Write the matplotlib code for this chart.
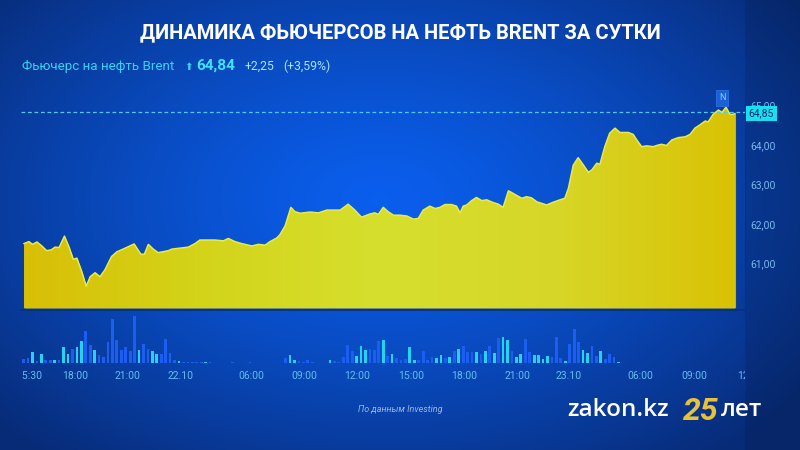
import numpy as np
import matplotlib
matplotlib.use("Agg")
import matplotlib.pyplot as plt
from matplotlib.colors import LinearSegmentedColormap

# ---------------- data ----------------
# time position in 15-minute slots (night pauses removed), price in USD
t_slot = [0.1, 1.2, 2.0, 3.0, 4.1, 5.2, 6.2, 7.1, 8.0, 9.2, 10.2, 11.2, 12.0, 13.1, 14.1, 15.0,
          16.1, 17.2, 18.3, 19.8, 21.0, 22.8, 24.9, 26.4, 27.2, 28.1, 29.2, 30.3, 32.6, 33.4,
          37.1, 38.6, 39.7, 43.1, 45.0, 46.1, 47.6, 49.1, 51.4, 52.9, 54.4, 55.5, 57.0, 57.7,
          58.9, 60.2, 61.1, 62.3, 64.5, 66.4, 68.3, 71.3, 73.1, 74.6, 76.1, 78.0, 79.1, 79.9,
          81.0, 82.1, 83.3, 84.8, 86.3, 87.8, 88.9, 90.0, 91.5, 92.7, 93.8, 94.9, 96.4, 97.5,
          98.3, 99.0, 99.8, 100.9, 102.0, 103.2, 104.3, 105.8, 106.9, 108.0, 109.2, 110.3,
          112.2, 113.3, 114.4, 115.6, 117.8, 119.3, 120.8, 121.9, 122.7, 123.8, 124.9, 126.1,
          127.2, 128.0, 129.1, 129.8, 130.9, 132.0, 133.2, 134.3, 136.2, 137.3, 138.1, 139.2,
          140.3, 141.8, 142.9, 143.7, 144.8, 146.0, 147.5, 149.0, 150.1, 151.2, 152.3, 153.5,
          154.2, 155.3, 156.5, 157.3, 158.2, 159.1, 159.8, 160.2]
price = [61.50, 61.55, 61.48, 61.54, 61.44, 61.32, 61.34, 61.41, 61.40, 61.69, 61.42, 61.10,
         61.13, 60.79, 60.42, 60.66, 60.76, 60.66, 60.83, 61.17, 61.29, 61.38, 61.49, 61.23,
         61.23, 61.48, 61.36, 61.27, 61.32, 61.36, 61.41, 61.50, 61.59, 61.59, 61.57, 61.63,
         61.55, 61.50, 61.44, 61.48, 61.46, 61.55, 61.64, 61.72, 61.95, 62.42, 62.31, 62.27,
         62.30, 62.28, 62.35, 62.35, 62.50, 62.35, 62.17, 62.25, 62.28, 62.24, 62.42, 62.31,
         62.22, 62.22, 62.20, 62.12, 62.14, 62.35, 62.45, 62.39, 62.42, 62.49, 62.49, 62.45,
         62.28, 62.45, 62.48, 62.59, 62.67, 62.59, 62.61, 62.54, 62.50, 62.42, 62.84, 62.77,
         62.65, 62.69, 62.66, 62.56, 62.48, 62.55, 62.61, 62.65, 62.90, 63.49, 63.68, 63.49,
         63.31, 63.37, 63.54, 63.51, 63.96, 64.30, 64.43, 64.32, 64.32, 64.27, 64.13, 63.96,
         63.98, 63.96, 64.00, 64.02, 63.99, 64.13, 64.19, 64.21, 64.27, 64.43, 64.51, 64.61,
         64.59, 64.78, 64.89, 64.83, 64.96, 64.78, 64.78, 64.80]

# volume per 15-minute slot (relative units)
volume = [4, 5, 11, 2, 9, 3, 3, 3, 3, 16, 9, 14, 16, 22, 32, 18, 13, 8, 6, 21, 44, 23, 13, 16,
          12, 47, 13, 19, 14, 12, 9, 9, 24, 10, 3, 2, 1, 1, 1, 0.7, 0.7, 1.5, 0.8, 0, 0, 0, 0,
          0.8, 0, 0, 0, 0.8, 0, 0, 0, 0.5, 0.5, 0.5, 0, 5, 8, 3, 2, 1, 3, 1, 0, 0, 0, 3, 2, 1,
          6, 18, 12, 7, 17, 13, 14, 13, 22, 23, 7, 9, 5, 3, 4, 16, 3, 3, 12, 3, 6, 5, 8, 5, 6,
          12, 14, 17, 11, 11, 11, 9, 12, 17, 10, 25, 26, 23, 12, 6, 9, 24, 11, 8, 8, 4, 7, 6,
          26, 5, 2, 19, 34, 21, 13, 10, 17, 7, 12, 4, 9, 6, 0.8]
# bar direction per slot: u = up (cyan), d = down (blue)
direction = list(
    "ddududdudu" "uduudduddd"      # 0-19
    "dddddduddu" "udddduddd"       # 20-38
    "ddudddddddddddddddddd"        # 39-59 (includes quiet night)
    "uuddddddu" "ud"               # 60-70
    "dddduuudddudu" "ddduudd"      # 71-90
    "dduudud" "udddudududuudu"     # 91-111
    "udduuuudddudd" "duuddudddu"   # 112-134
)
direction = (direction + ["d"] * len(volume))[:len(volume)]

tick_pos = [1.2, 11.5, 23.5, 35.3, 51.2, 63.2, 75.2, 87.2, 99.2, 111.2, 122.8, 139.0, 151.0, 163.6]
tick_lab = ["15:30", "18:00", "21:00", "22.10", "06:00", "09:00", "12:00", "15:00", "18:00",
            "21:00", "23.10", "06:00", "09:00", "12:00"]

y_ticks = [61, 62, 63, 64, 65]
last_price = 64.85

title = "ДИНАМИКА ФЬЮЧЕРСОВ НА НЕФТЬ BRENT ЗА СУТКИ"
sub_name = "Фьючерс на нефть Brent"
sub_price = "64,84"
sub_change = "+2,25"
sub_pct = "(+3,59%)"
source = "По данным Investing"

# ---------------- figure ----------------
W, H = 800, 450
fig = plt.figure(figsize=(8, 4.5), dpi=100)

# background gradient
yy, xx = np.mgrid[0:H, 0:W]
d = np.sqrt(((xx - 380) / 520.0) ** 2 + ((yy - 200) / 330.0) ** 2)
tt = np.clip(d, 0, 1) ** 1.3
c0 = np.array([0.04, 0.37, 0.93])
c1 = np.array([0.03, 0.17, 0.47])
img = c0[None, None, :] * (1 - tt[..., None]) + c1[None, None, :] * tt[..., None]
img[:, 745:, :] *= 0.88
bg = fig.add_axes([0, 0, 1, 1])
bg.imshow(img, aspect="auto", extent=[0, W, H, 0])
bg.set_xlim(0, W)
bg.set_ylim(H, 0)
bg.axis("off")
bg.plot([745, 745], [88, 390], color="#0a2f86", lw=0.8)
bg.plot([21, 745], [309.5, 309.5], color="#0a2f7a", lw=1.2)

def fx(px):
    return px / W

def fy(py):
    return 1 - py / H

xlim = (-0.586, 162.48)

# price axes
ax = fig.add_axes([fx(21), fy(308), fx(745) - fx(21), fy(85) - fy(308)])
ax.set_facecolor("none")
ax.set_xlim(*xlim)
ymin, ymax = 59.865, 65.525
ax.set_ylim(ymin, ymax)
for s in ax.spines.values():
    s.set_visible(False)

poly = ax.fill_between(t_slot, price, ymin, color="#d6cf12", lw=0, zorder=2)
grad_cmap = LinearSegmentedColormap.from_list(
    "g", ["#d8bf06", "#d3d41a", "#d6df2e", "#d7d628", "#d9c204"])
gx = np.linspace(0, 1, 256)[None, :]
gim = ax.imshow(np.repeat(gx, 4, axis=0), cmap=grad_cmap, aspect="auto",
                extent=[t_slot[0], t_slot[-1], ymin, max(price)], zorder=2.5)
gim.set_clip_path(poly.get_paths()[0], transform=ax.transData)
ax.plot(t_slot, price, color="#e6ea4c", lw=1.1, zorder=3)
ax.plot([t_slot[-1], t_slot[-1]], [ymin, price[-1]], color="#c9b400", lw=0.8, zorder=3)
ax.axhline(last_price, color="#55c8f2", lw=0.9, dashes=(3, 2.2), zorder=4)

ax.yaxis.tick_right()
ax.set_yticks(y_ticks)
ax.set_yticklabels([f"{v:.2f}".replace(".", ",") for v in y_ticks],
                   fontsize=7.5, color="#78b8ee", family="Roboto")
ax.tick_params(axis="y", length=0, pad=4)
ax.set_xticks([])

# last price box
fig.text(fx(761.5), fy(113.5), "64,85", ha="center", va="center", fontsize=7.5,
         family="Roboto", color="#0b2a66",
         bbox=dict(boxstyle="square,pad=0.25", fc="#18e0f4", ec="none"), zorder=10)
# N marker
fig.text(fx(722), fy(98), "N", ha="center", va="center", fontsize=6.5, family="Roboto",
         color="#74d8ff",
         bbox=dict(boxstyle="square,pad=0.35", fc="#1d5fd6", ec="#2a70e0", lw=0.6), zorder=10)

# volume axes
axv = fig.add_axes([fx(21), fy(390), fx(745) - fx(21), fy(315) - fy(390)])
axv.set_facecolor("none")
axv.set_xlim(*xlim)
axv.set_ylim(-27, 48)
axv.axis("off")
vx = np.arange(len(volume))
cols = ["#22d3f2" if c == "u" else "#1d5ef2" for c in direction]
axv.bar(vx, volume, width=0.62, color=cols, lw=0)
for p, lab in zip(tick_pos, tick_lab):
    axv.text(p, -13, lab, ha="center", va="center", fontsize=7.5, family="Roboto",
             color="#62bdf2", clip_on=True)

# title & subtitle
fig.text(0.5, fy(33), title, ha="center", va="center", fontsize=14.5,
         family="Roboto", weight="bold", color="white")
fig.text(fx(22), fy(66), sub_name, ha="left", va="center", fontsize=9.6,
         family="Roboto", color="#36d4f0")
fig.text(fx(188.5), fy(66.5), "⬆", ha="center", va="center", fontsize=7.5,
         family=["DejaVu Sans"], color="#36d4f0")
fig.text(fx(196), fy(66), sub_price, ha="left", va="center", fontsize=11,
         family="Roboto", weight="bold", color="#3fe4ff")
fig.text(fx(245), fy(66), sub_change, ha="left", va="center", fontsize=8.8,
         family="Roboto", color="#a8e4ff")
fig.text(fx(283), fy(66), sub_pct, ha="left", va="center", fontsize=8.8,
         family="Roboto", color="#a8e4ff")

# footer
fig.text(fx(400), fy(410), source, ha="center", va="center", fontsize=6.5,
         family="Roboto", style="italic", color="#9cb6e2")
fig.text(fx(567), fy(410), "zakon.kz", ha="left", va="center", fontsize=17.5,
         family="Open Sans", weight="semibold", color="white")
fig.text(fx(701), fy(411), "25", ha="center", va="center", fontsize=23,
         family="Roboto", weight="bold", style="italic", color="#e6c13a")
fig.text(fx(721), fy(410), "лет", ha="left", va="center", fontsize=17.5,
         family="Open Sans", weight="semibold", color="white")

fig.savefig("out.png", dpi=100)
